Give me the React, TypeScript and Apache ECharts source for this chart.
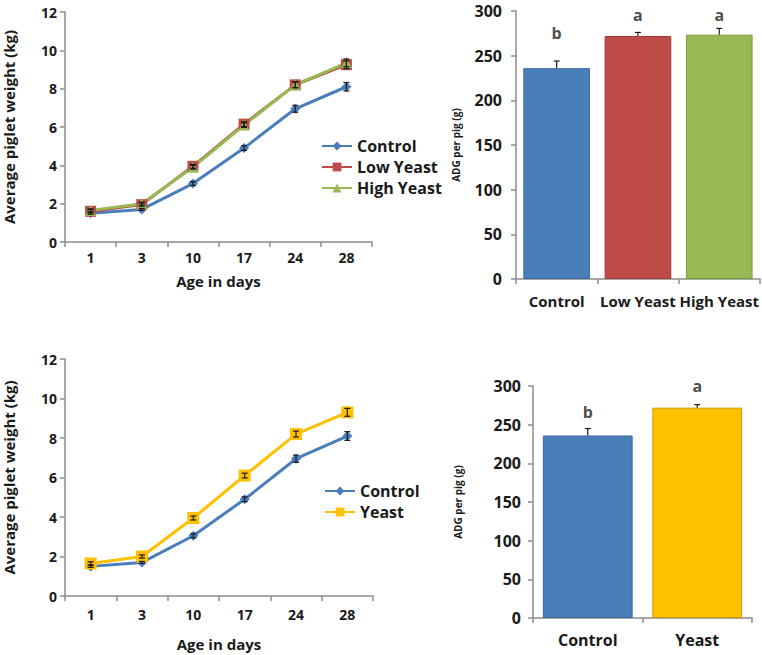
import React, { useEffect, useRef } from "react";
import * as echarts from "echarts";

const days = ["1", "3", "10", "17", "24", "28"];
const controlW = [1.5, 1.7, 3.05, 4.9, 6.95, 8.1];
const controlErr = [0.05, 0.05, 0.1, 0.12, 0.18, 0.22];
const lowYeastW = [1.6, 1.95, 3.95, 6.15, 8.2, 9.25];
const lowYeastErr = [0.08, 0.08, 0.1, 0.12, 0.15, 0.2];
const highYeastW = [1.65, 2.0, 3.9, 6.1, 8.2, 9.35];
const highYeastErr = [0.08, 0.08, 0.1, 0.12, 0.15, 0.2];
const yeastW = [1.65, 2.0, 3.95, 6.1, 8.2, 9.3];
const yeastErr = [0.08, 0.08, 0.1, 0.12, 0.15, 0.2];

const groups3 = ["Control", "Low Yeast", "High Yeast"];
const adg3 = [236, 272, 273.5];
const adg3Err = [8, 4, 7];
const letters3 = ["b", "a", "a"];
const letters3Pos = [275, 296, 296];

const groups2 = ["Control", "Yeast"];
const adg2 = [236, 272];
const adg2Err = [9, 4];
const letters2 = ["b", "a"];
const letters2Pos = [267, 300];

const weightTicks = { min: 0, max: 12, interval: 2 };
const adgTicks = { min: 0, max: 300, interval: 50 };

const BLUE = "#4A7EBB";
const RED = "#BE4B48";
const GREEN = "#98B954";
const YELLOW = "#FFC000";
const TXT = "#1a1a1a";
const AX = "#8c8c8c";
const FONT = "Open Sans";

function errSeries(idx: number, vals: number[], errs: number[], both: boolean) {
  return {
    type: "custom",
    xAxisIndex: idx,
    yAxisIndex: idx,
    z: 10,
    silent: true,
    data: vals.map((v, i) => [i, both ? v - errs[i] : v, v + errs[i]]),
    renderItem: (params: any, api: any) => {
      const x = api.value(0);
      const p1 = api.coord([x, api.value(1)]);
      const p2 = api.coord([x, api.value(2)]);
      const w = 3;
      const st = { stroke: "#1a1a1a", lineWidth: 1.2 };
      const ch: any[] = [
        { type: "line", shape: { x1: p1[0], y1: p1[1], x2: p2[0], y2: p2[1] }, style: st },
        { type: "line", shape: { x1: p2[0] - w, y1: p2[1], x2: p2[0] + w, y2: p2[1] }, style: st },
      ];
      if (both)
        ch.push({ type: "line", shape: { x1: p1[0] - w, y1: p1[1], x2: p1[0] + w, y2: p1[1] }, style: st });
      return { type: "group", children: ch };
    },
  };
}

function lineSeries(idx: number, name: string, data: number[], color: string, symbol: string, size: number) {
  return {
    type: "line",
    name,
    xAxisIndex: idx,
    yAxisIndex: idx,
    data,
    symbol,
    symbolSize: size,
    lineStyle: { color, width: 3 },
    itemStyle: { color },
  };
}

function letterSeries(idx: number, pos: number[], letters: string[]) {
  return {
    type: "scatter",
    xAxisIndex: idx,
    yAxisIndex: idx,
    symbolSize: 0,
    clip: false,
    silent: true,
    data: pos,
    label: {
      show: true,
      position: "inside",
      formatter: (p: any) => letters[p.dataIndex],
      color: TXT,
      fontFamily: FONT,
      fontWeight: "bold",
      fontSize: 16,
    },
  };
}

const catAxisBase = (idx: number, data: string[], fontSize: number, margin: number) => ({
  type: "category",
  gridIndex: idx,
  data,
  boundaryGap: true,
  axisLine: { show: true, lineStyle: { color: AX, width: 1.5 } },
  axisTick: { show: true, length: 5, alignWithLabel: false, lineStyle: { color: AX, width: 1.5 } },
  axisLabel: { color: TXT, fontFamily: FONT, fontWeight: "bold", fontSize, margin, interval: 0, hideOverlap: false },
  splitLine: { show: false },
});

const valAxisBase = (idx: number, t: any, fontSize: number, margin: number) => ({
  type: "value",
  gridIndex: idx,
  min: t.min,
  max: t.max,
  interval: t.interval,
  axisLine: { show: true, lineStyle: { color: AX, width: 1.5 } },
  axisTick: { show: true, length: 5, lineStyle: { color: AX, width: 1.5 } },
  axisLabel: { color: TXT, fontFamily: FONT, fontWeight: "bold", fontSize, margin },
  splitLine: { show: false },
});

export default function App() {
  const ref = useRef<HTMLDivElement>(null);
  useEffect(() => {
    if (!ref.current) return;
    document.body.style.margin = "0";
    const chart = echarts.init(ref.current, null, { renderer: "svg" });
    const option: any = {
      animation: false,
      backgroundColor: "#ffffff",
      textStyle: { fontFamily: FONT },
      grid: [
        { left: 63, top: 12, width: 309, height: 230 },
        { left: 516, top: 11, width: 244, height: 268 },
        { left: 59, top: 359, width: 314, height: 237 },
        { left: 533, top: 386, width: 219, height: 232 },
      ],
      legend: [
        {
          orient: "vertical",
          left: 316,
          top: 133,
          itemWidth: 30,
          itemHeight: 11,
          itemGap: 5,
          textStyle: { color: TXT, fontFamily: FONT, fontWeight: "bold", fontSize: 16 },
          data: ["Control", "Low Yeast", "High Yeast"],
        },
        {
          orient: "vertical",
          left: 319,
          top: 478,
          itemWidth: 30,
          itemHeight: 11,
          itemGap: 5,
          textStyle: { color: TXT, fontFamily: FONT, fontWeight: "bold", fontSize: 16 },
          data: ["Control ", "Yeast"],
        },
      ],
      xAxis: [
        {
          ...catAxisBase(0, days, 14, 8),
          name: "Age in days",
          nameLocation: "middle",
          nameGap: 31,
          nameTextStyle: { color: TXT, fontFamily: FONT, fontWeight: "bold", fontSize: 15 },
        },
        catAxisBase(1, groups3, 15, 14),
        {
          ...catAxisBase(2, days, 14, 11),
          name: "Age in days",
          nameLocation: "middle",
          nameGap: 40,
          nameTextStyle: { color: TXT, fontFamily: FONT, fontWeight: "bold", fontSize: 15 },
        },
        catAxisBase(3, groups2, 16, 14),
      ],
      yAxis: [
        {
          ...valAxisBase(0, weightTicks, 14, 8),
          name: "Average piglet weight (kg)",
          nameLocation: "middle",
          nameRotate: 90,
          nameGap: 49,
          nameTextStyle: { color: TXT, fontFamily: FONT, fontWeight: "bold", fontSize: 15 },
        },
        {
          ...valAxisBase(1, adgTicks, 16, 14),
          name: "ADG per pig (g)",
          nameLocation: "middle",
          nameRotate: 90,
          nameGap: 55,
          nameTextStyle: { color: TXT, fontFamily: FONT, fontWeight: "bold", fontSize: 10 },
        },
        {
          ...valAxisBase(2, weightTicks, 14, 8),
          name: "Average piglet weight (kg)",
          nameLocation: "middle",
          nameRotate: 90,
          nameGap: 49,
          nameTextStyle: { color: TXT, fontFamily: FONT, fontWeight: "bold", fontSize: 15 },
        },
        {
          ...valAxisBase(3, adgTicks, 16, 12),
          name: "ADG per pig (g)",
          nameLocation: "middle",
          nameRotate: 90,
          nameGap: 70,
          nameTextStyle: { color: TXT, fontFamily: FONT, fontWeight: "bold", fontSize: 10 },
        },
      ],
      series: [
        lineSeries(0, "Control", controlW, BLUE, "diamond", 10),
        lineSeries(0, "Low Yeast", lowYeastW, RED, "rect", 11),
        lineSeries(0, "High Yeast", highYeastW, GREEN, "triangle", 11),
        errSeries(0, controlW, controlErr, true),
        errSeries(0, lowYeastW, lowYeastErr, true),
        errSeries(0, highYeastW, highYeastErr, true),
        {
          type: "bar",
          xAxisIndex: 1,
          yAxisIndex: 1,
          barCategoryGap: "18%",
          data: adg3.map((v, i) => ({
            value: v,
            itemStyle: { color: [BLUE, RED, GREEN][i], borderColor: ["#3d6a9e", "#9e3c3a", "#7f9a45"][i], borderWidth: 1 },
          })),
        },
        errSeries(1, adg3, adg3Err, false),
        letterSeries(1, letters3Pos, letters3),
        lineSeries(2, "Control ", controlW, BLUE, "diamond", 10),
        lineSeries(2, "Yeast", yeastW, YELLOW, "rect", 12),
        errSeries(2, controlW, controlErr, true),
        errSeries(2, yeastW, yeastErr, true),
        {
          type: "bar",
          xAxisIndex: 3,
          yAxisIndex: 3,
          barCategoryGap: "18%",
          data: adg2.map((v, i) => ({
            value: v,
            itemStyle: { color: [BLUE, YELLOW][i], borderColor: ["#3d6a9e", "#c99a00"][i], borderWidth: 1 },
          })),
        },
        errSeries(3, adg2, adg2Err, false),
        letterSeries(3, letters2Pos, letters2),
      ],
    };
    chart.setOption(option);
    return () => chart.dispose();
  }, []);
  return <div ref={ref} style={{ position: "absolute", left: 0, top: 0, width: 762, height: 655 }} />;
}
